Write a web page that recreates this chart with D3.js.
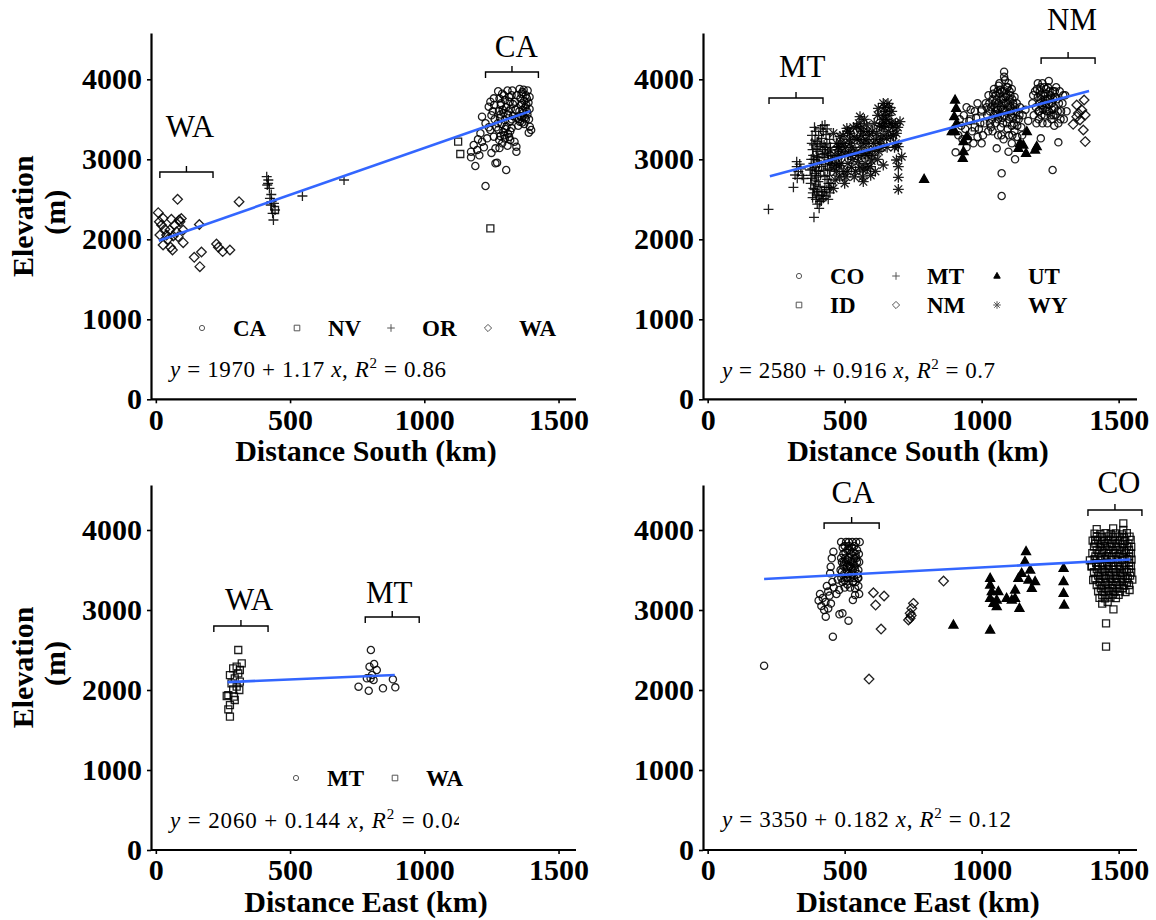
<!DOCTYPE html>
<html>
<head>
<meta charset="utf-8">
<script src="https://cdn.jsdelivr.net/npm/d3@7"></script>
<style>
  body { margin: 0; background: #fff; }
  svg { display: block; }
  text { font-family: "Liberation Serif", "Times New Roman", serif; }
</style>
</head>
<body>
<svg id="chart" width="1156" height="920"></svg>
<script>
// ---- data: [distance km, elevation m] ----
// panel 1: distance south, western states
const p1CA = [[1190,2916],[1228,2666],[1265,2950],[1271,2958],[1305,2866],[1343,3095],[1343,3158],[1336,3220],[1393,3408],[1389,3333],[1398,3366],
  [1174,3025],[1174,3095],[1184,3179],[1197,3116],[1209,3325],[1215,3220],[1234,3262],[1215,3533],[1228,3450],[1240,3658],[1246,3720],[1259,3762],[1246,3366],[1259,3283],[1265,3137],[1222,3150],[1205,3050],[1250,3080],[1240,3400],[1200,3250],
  [1275,3850],[1290,3820],[1310,3860],[1325,3800],[1280,3760],[1300,3740],[1318,3720],[1330,3690],[1285,3680],[1305,3650],[1322,3630],[1278,3600],[1295,3580],[1312,3560],[1330,3540],[1282,3520],[1300,3490],[1318,3470],[1288,3440],[1306,3410],[1325,3390],[1276,3370],[1294,3340],[1312,3320],[1283,3290],[1300,3260],[1320,3240],[1290,3200],[1310,3170],[1280,3140],
  [1355,3880],[1370,3870],[1385,3860],[1362,3820],[1378,3800],[1392,3780],[1358,3760],[1372,3730],[1388,3710],[1360,3680],[1376,3650],[1392,3630],[1354,3600],[1368,3580],[1384,3560],[1362,3530],[1378,3500],[1356,3470],[1372,3440],[1350,3420],[1340,3620],[1345,3520],[1338,3720],[1345,3800],
  [1286,3700],[1296,3800],[1316,3780],[1328,3860],[1274,3450],[1292,3620],[1314,3600],[1326,3500],[1284,3560],[1302,3380],[1320,3350],[1298,3300],[1316,3280],[1279,3240],[1366,3840],[1382,3760],[1364,3700],[1380,3680],[1366,3620],[1382,3600],[1358,3540],[1374,3520],[1390,3500],[1352,3500],[1365,3460],[1268,3400],[1262,3500],[1255,3600],[1260,3680],[1250,3550]];
const p1NV = [[1126,3220],[1134,3066],[1246,2137],[444,2366]];
const p1OR = [[413,2783],[419,2741],[415,2679],[423,2637],[418,2700],[425,2512],[431,2471],[440,2450],[428,2429],[444,2366],[435,2325],[438,2241],[430,2560],[546,2541],[701,2741]];
const p1WA = [[81,2500],[310,2470],[9,2333],[27,2262],[58,2250],[87,2242],[90,2220],[162,2185],[21,2179],[34,2125],[52,2116],[77,2095],[102,2116],[15,2054],[40,2054],[65,2041],[83,2033],[102,1958],[27,1929],[55,1900],[62,1866],[226,1941],[233,1900],[249,1846],[276,1866],[143,1775],[170,1841],[164,1658],[13,2220],[70,2180],[95,2260],[45,2000]];

// panel 2: distance south, rocky mountain states
const p2CO = [[905,3087],[915,3300],[925,3420],[935,3550],[945,3650],[955,3480],[965,3350],[975,3600],[985,3700],[995,3450],[1005,3300],[920,3500],[940,3380],[950,3250],[960,3620],[970,3200],[980,3520],[990,3380],[1000,3620],[930,3250],[945,3150],[1010,3450],[1000,3200],[985,3280],
  [1015,3700],[1025,3800],[1035,3650],[1045,3880],[1055,3750],[1065,3950],[1075,3850],[1085,3990],[1095,3900],[1105,3800],[1115,3700],[1125,3600],[1135,3500],[1145,3400],[1020,3550],[1030,3450],[1040,3350],[1050,3600],[1060,3500],[1070,3400],[1080,3700],[1090,3600],[1100,3500],[1110,3420],[1120,3350],[1130,3280],[1140,3650],[1150,3550],[1060,3300],[1080,3250],[1100,3300],[1050,3450],[1070,3650],[1090,3800],[1110,3880],[1120,3780],[1040,3750],[1030,3600],[1065,3820],[1085,3550],[1095,3380],[1075,3520],[1105,3650],[1115,3520],[1130,3420],[1055,3650],
  [1018,3650],[1028,3700],[1038,3500],[1048,3700],[1058,3850],[1068,3550],[1078,3750],[1088,3700],[1098,3950],[1108,3600],[1118,3450],[1128,3700],[1138,3550],[1148,3300],[1062,3920],[1072,3300],[1092,3450],[1102,3750],[1112,3300],[1044,3550],[1034,3400],[1024,3350],[1083,3850],[1095,3650],[1060,3620],[1078,3450],
  [1042,3820],[1052,3800],[1062,3700],[1072,3750],[1082,3600],[1092,3900],[1102,3850],[1112,3750],[1122,3650],[1067,3870],[1087,3780],[1097,3700],[1107,3550],[1047,3650],[1057,3550],[1077,3620],[1117,3600],[1127,3500],
  [1073,2825],[1073,2541],[1082,4095],[1082,4033],[1122,3000],[1098,3095],[1055,3137],[1110,3200],
  [1185,3700],[1195,3850],[1205,3950],[1215,3900],[1225,3800],[1235,3700],[1245,3600],[1255,3500],[1265,3650],[1275,3750],[1285,3850],[1295,3700],[1190,3550],[1200,3450],[1210,3600],[1220,3680],[1230,3550],[1240,3450],[1250,3750],[1260,3850],[1270,3550],[1280,3450],[1290,3600],[1300,3500],[1215,3750],[1235,3880],[1245,3980],[1205,3780],[1225,3620],[1255,3700],[1265,3420],
  [1188,3800],[1198,3650],[1208,3500],[1218,3550],[1228,3900],[1238,3600],[1248,3850],[1258,3620],[1268,3780],[1278,3600],[1288,3500],[1298,3800],[1212,3850],[1232,3750],[1252,3550],[1272,3900],[1242,3750],[1222,3450],[1262,3550],[1282,3700],
  [1202,3880],[1212,3700],[1222,3950],[1232,3820],[1242,3900],[1252,3800],[1262,3750],[1207,3600],[1227,3700],[1247,3680],[1267,3850],[1237,3650],[1217,3800],
  [1259,2866],[1280,3212],[1216,3262],[1310,3600],[1305,3800],[1170,3480],[1160,3620]];
const p2ID = [[960,3500],[1000,3600],[975,3400]];
const p2MT = [[222,2375],[388,2275],[407,2387],[313,2650],[325,2970],[325,2908],[331,2845],[327,2762],[319,2804],
  [428,3429],[422,3345],[416,3262],[435,3200],[410,3158],[428,3075],[398,3033],[441,2991],[386,2950],[416,2908],[447,2866],[392,2825],[428,2783],[404,2720],[441,2700],[386,2637],[416,2595],[398,2554],[422,2512],[410,2470],[380,2762],[453,2929],[374,2866],[400,2980],[420,3120],[395,2680],[435,2620],[405,2850],[385,3050],
  [390,3400],[405,3300],[432,3310],[445,3250],[388,3180],[402,3100],[425,3020],[438,3090],[450,3050],[378,3000],[392,2900],[408,2940],[430,2930],[445,2800],[382,2880],[398,2780],[412,2800],[436,2750],[450,2700],[376,2700],[392,2740],[410,2660],[428,2650],[446,2580],[384,2580],[402,2600],[420,2550],[440,2500],[395,2500],[415,2480],[432,2540],[340,2880],[345,2800],[336,2940],[350,2760],[412,3380],[425,3180],[400,3220],[383,3120],[455,3000],
  [381,3300],[394,3350],[418,3420],[436,3380],[448,3150],[392,3240],[414,3200],[430,3150],[380,3200],[396,3130],[418,3060],[440,3040],[388,3000],[406,3020],[446,2950],[377,2800],[396,2860],[424,2860],[438,2880],[390,2620],[406,2540],[426,2590],[444,2650],[383,2520],[400,2440]];
const p2NM = [[1347,3679],[1374,3741],[1366,3616],[1378,3554],[1347,3533],[1359,3491],[1334,3437],[1371,3366],[1378,3221],[1353,3575]];
const p2UT = [[790,2750],[903,3741],[907,3637],[900,3533],[909,3450],[903,3345],[891,3345],[934,3220],[934,3095],[931,3012],[946,3283],[1165,3345],[1140,3200],[1152,3179],[1134,3137],[1162,3075],[1201,3158],[1195,3116]];
const p2WY = [[508,3387],[483,3283],[477,3158],[501,3054],[459,2637],[465,2741],[495,2845],[471,2950],[520,3200],[556,3533],[544,3408],[568,3345],[556,3241],[538,3116],[574,3075],[550,2970],[568,2866],[568,2720],[593,2908],[586,3200],[617,3325],[623,3637],[641,3700],[641,3554],[635,3408],[653,3262],[641,2929],[611,3116],[665,3450],[689,3325],[702,3470],[696,3158],[708,3033],[696,2908],[696,2775],[696,2625],[447,3116],[459,3325],[689,2991],[580,3429],[520,3325],[450,2980],[490,3100],[530,3000],[600,3050],[620,3000],[560,3150],[650,3600],[660,3350],[470,2850],
  [462,2900],[478,3050],[488,2950],[498,3200],[505,2780],[515,3080],[525,2900],[535,3280],[548,3050],[560,3300],[572,3500],[578,3250],[590,3100],[598,2980],[605,3200],[612,2850],[625,3100],[632,3250],[638,3500],[645,3650],[648,3450],[655,3150],[662,3550],[668,3280],[675,3400],[682,3150],[470,3200],[482,2780],[512,2950],[526,3150],[540,2850],[552,3450],[565,2780],[585,3350],[595,2800],[628,3420],[640,3300],[658,3700],[672,3600],[685,3450],[500,2700],[518,3250],[575,2950],[608,3450],[620,3550],
  [465,3050],[476,3120],[486,3200],[494,3300],[503,3150],[511,3350],[522,3050],[532,3400],[545,3250],[558,3380],[563,3050],[570,3200],[582,3050],[590,3300],[602,3350],[614,3250],[626,3200],[636,3150],[644,3400],[652,3500],[664,3650],[670,3450],[678,3300],[686,3200],[694,3400],[480,2920],[510,2850],[535,2780],[555,2900],[582,2880]];

// panel 3: distance east, MT and WA
const p3MT = [[801,2500],[796,2292],[813,2325],[823,2250],[805,2187],[800,2146],[811,2125],[786,2146],[755,2042],[793,1991],[846,2021],[883,2133],[892,2033]];
const p3WA = [[307,2500],[320,2333],[301,2292],[288,2271],[313,2250],[276,2187],[307,2208],[294,2146],[313,2104],[282,2083],[301,2042],[288,2008],[311,2000],[270,1937],[264,1925],[294,1875],[276,1812],[270,1758],[276,1666],[291,1916]];

// panel 4: distance east, CA / NM / UT / CO
const p4CA = [[206,2304],[431,2917],[457,2667],[481,2946],[492,2958],[514,2867],[530,3125],[538,3187],[538,3270],
  [459,3729],[453,3646],[449,3541],[447,3458],[410,3200],[420,3150],[430,3100],[440,3230],[415,3050],[425,3000],[445,3180],[455,3350],[460,3280],[435,3300],[450,3080],[405,3120],[440,3020],
  [485,3500],[490,3600],[495,3700],[500,3800],[505,3850],[510,3750],[515,3650],[520,3550],[525,3450],[530,3350],[535,3800],[540,3700],[545,3600],[550,3500],[555,3850],[488,3400],[498,3450],[508,3550],[518,3750],[528,3850],[538,3500],[548,3400],[552,3700],[492,3350],[502,3650],[512,3450],[522,3700],[532,3600],[542,3850],[495,3550],[505,3400],[515,3850],[525,3600],[535,3400],[545,3750],[500,3280],[510,3320],[520,3280],[550,3300],[553,3200],[480,3250],[470,3200],[475,3380],
  [487,3850],[493,3780],[503,3720],[513,3620],[523,3520],[533,3720],[543,3650],[553,3600],[487,3650],[497,3600],[507,3500],[517,3550],[527,3780],[537,3550],[547,3450],[490,3480],[510,3400],[530,3500],[550,3400],[500,3370],[520,3400],[540,3350],[515,3800],[535,3650],[505,3600]];
const p4NM = [[605,3216],[644,3175],[613,3062],[633,2762],[589,2137],[861,3362],[751,3083],[745,3021],[739,2958],[739,2896],[733,2875],[743,2930]];
const p4UT = [[897,2812],[1031,2750],[1031,3396],[1031,3312],[1037,3229],[1031,3146],[1043,3083],[1055,3042],[1061,3229],[1091,3146],[1122,3250],[1122,3146],[1138,3021],[1134,3396],[1146,3458],[1162,3729],[1158,3604],[1177,3500],[1171,3375],[1183,3271],[1195,3354],[1299,3521],[1299,3354],[1299,3208],[1301,3062],[1055,3125],[1110,3125]];
const p4CO = [[1412,3955],[1433,3948],[1452,3962],[1471,3950],[1490,3958],[1512,3946],[1530,3960],
  [1405,3868],[1425,3875],[1446,3862],[1466,3878],[1486,3866],[1505,3872],[1524,3864],[1544,3876],
  [1410,3792],[1431,3785],[1450,3798],[1470,3788],[1491,3794],[1511,3782],[1531,3796],[1546,3788],
  [1404,3712],[1426,3705],[1445,3718],[1465,3708],[1485,3715],[1506,3702],[1526,3716],[1545,3708],
  [1412,3635],[1432,3626],[1451,3638],[1472,3628],[1492,3634],[1512,3624],[1532,3637],[1547,3630],
  [1402,3552],[1424,3545],[1444,3556],[1464,3548],[1484,3554],[1504,3544],[1525,3558],[1545,3550],
  [1410,3472],[1430,3466],[1450,3478],[1470,3468],[1490,3474],[1510,3464],[1530,3476],[1546,3470],
  [1415,3392],[1434,3385],[1454,3396],[1474,3388],[1494,3394],[1514,3384],[1534,3396],
  [1420,3312],[1440,3305],[1460,3316],[1480,3308],[1500,3314],[1520,3304],[1538,3310],
  [1425,3232],[1445,3226],[1465,3236],[1485,3228],[1505,3234],[1525,3224],
  [1430,3152],[1450,3146],[1470,3156],[1490,3148],
  [1420,3915],[1440,3910],[1460,3920],[1480,3912],[1500,3918],[1520,3908],[1540,3916],
  [1415,3830],[1436,3826],[1456,3834],[1476,3828],[1496,3832],[1516,3824],[1536,3830],
  [1420,3750],[1440,3745],[1460,3755],[1480,3748],[1500,3752],[1520,3744],[1538,3750],
  [1415,3670],[1436,3665],[1456,3674],[1476,3668],[1496,3672],[1516,3664],[1538,3670],
  [1418,3590],[1438,3586],[1458,3594],[1478,3588],[1498,3592],[1518,3584],[1538,3590],
  [1420,3510],[1440,3506],[1460,3514],[1480,3508],[1500,3512],[1520,3504],[1538,3510],
  [1425,3430],[1445,3426],[1465,3434],[1485,3428],[1505,3432],[1525,3424],[1542,3430],
  [1430,3350],[1450,3346],[1470,3354],[1490,3348],[1510,3352],[1530,3344],
  [1435,3270],[1455,3266],[1475,3274],[1495,3268],[1515,3272],
  [1440,3190],[1460,3186],[1480,3194],[1500,3188],
  [1454,2833],[1454,2542],[1481,3008],[1517,4083],[1517,4000],[1401,3541],[1407,3375],[1414,3875],[1440,3080],[1460,3100],[1540,3250],[1420,4010],[1480,4020],[1395,3620],[1550,3380]];

// regression fits
const fitIntercept = [1970, 2580, 2060, 3350];
const fitSlope = [1.17, 0.916, 0.144, 0.182];
const fitR2 = ["0.86", "0.7", "0.04", "0.12"];
const fitRange = [[11, 1395], [227, 1392], [267, 890], [206, 1543]];

// state brackets: [label, x0, x1, bracket y, label x, label y]
const p1Brackets = [["WA", 15, 213, 2841, 127, 3279], ["CA", 1228, 1425, 4091, 1343, 4279]];
const p2Brackets = [["MT", 224, 421, 3766, 345, 4029], ["NM", 1217, 1414, 4266, 1330, 4616]];
const p3Brackets = [["WA", 216, 418, 2800, 347, 3000], ["MT", 780, 981, 2912, 869, 3087]];
const p4Brackets = [["CA", 425, 626, 4087, 531, 4337], ["CO", 1388, 1585, 4250, 1501, 4462]];

const xTicks = [0, 500, 1000, 1500];
const yTicks = [0, 1000, 2000, 3000, 4000];

// ---- drawing ----
const svg = d3.select("#chart");

function shape(type, s) {
  const k = s * 0.72;
  switch (type) {
    case "circle": return `M${s},0A${s},${s} 0 1,1 ${-s},0A${s},${s} 0 1,1 ${s},0Z`;
    case "square": return `M${-s},${-s}H${s}V${s}H${-s}Z`;
    case "diamond": return `M0,${-s}L${s},0L0,${s}L${-s},0Z`;
    case "plus": return `M${-s},0H${s}M0,${-s}V${s}`;
    case "asterisk": return `M${-s},0H${s}M0,${-s}V${s}M${-k},${-k}L${k},${k}M${-k},${k}L${k},${-k}`;
    case "triangle": return `M0,${-s}L${s * 0.9},${s * 0.6}L${-s * 0.9},${s * 0.6}Z`;
  }
}
const markSize = { circle: 3.6, square: 3.5, diamond: 4.8, plus: 5, asterisk: 5.4, triangle: 5 };
const legendSize = { circle: 2.6, square: 2.8, diamond: 3.6, plus: 3.8, asterisk: 3.8, triangle: 3.6 };

const panels = [
  { left: 151, right: 576, top: 33, bottom: 399.3, xDom: [-18, 1565], xTitle: "Distance South (km)", titleX: 366, yTitle: true,
    series: [["circle", p1CA], ["square", p1NV], ["plus", p1OR], ["diamond", p1WA]],
    legend: [["circle", "CA", 202, 328], ["square", "NV", 297, 328], ["plus", "OR", 391, 328], ["diamond", "WA", 488, 328]],
    brackets: p1Brackets, eq: [170, 377, 276] },
  { left: 703, right: 1137, top: 33, bottom: 399.3, xDom: [-17, 1567], xTitle: "Distance South (km)", titleX: 918, yTitle: false,
    series: [["circle", p2CO], ["square", p2ID], ["plus", p2MT], ["diamond", p2NM], ["triangle", p2UT], ["asterisk", p2WY]],
    legend: [["circle", "CO", 799, 276], ["plus", "MT", 896, 276], ["triangle", "UT", 997, 276],
             ["square", "ID", 799, 305], ["diamond", "NM", 896, 305], ["asterisk", "WY", 997, 305]],
    brackets: p2Brackets, eq: [722, 378, 273] },
  { left: 151, right: 576, top: 485, bottom: 850, xDom: [-18, 1565], xTitle: "Distance East (km)", titleX: 366, yTitle: true,
    series: [["circle", p3MT], ["square", p3WA]],
    legend: [["circle", "MT", 296, 778], ["square", "WA", 395, 778]],
    brackets: p3Brackets, eq: [170, 828, 295], clipEq: 459 },
  { left: 703, right: 1137, top: 485, bottom: 850, xDom: [-17, 1567], xTitle: "Distance East (km)", titleX: 918, yTitle: false,
    series: [["circle", p4CA], ["diamond", p4NM], ["triangle", p4UT], ["square", p4CO]],
    legend: [],
    brackets: p4Brackets, eq: [722, 827, 289] }
];

panels.forEach((p, i) => {
  const x = d3.scaleLinear().domain(p.xDom).range([p.left, p.right]);
  const y = d3.scaleLinear().domain([0, (p.bottom - p.top) / 0.08]).range([p.bottom, p.top]);
  const g = svg.append("g");

  // points
  p.series.forEach(([type, pts]) => {
    g.append("g").selectAll("path").data(pts).join("path")
      .attr("transform", d => `translate(${x(d[0])},${y(d[1])})`)
      .attr("d", shape(type, markSize[type]))
      .attr("fill", type === "triangle" ? "#000" : "none")
      .attr("stroke", "#000")
      .attr("stroke-opacity", type === "triangle" ? 1 : 0.88)
      .attr("stroke-width", 1.3);
  });

  // fit line
  const a = fitIntercept[i], b = fitSlope[i];
  g.append("path")
    .datum(fitRange[i].map(v => [v, a + b * v]))
    .attr("d", d3.line().x(d => x(d[0])).y(d => y(d[1])))
    .attr("fill", "none").attr("stroke", "#3366FF").attr("stroke-width", 2.6);

  // axes
  const ax = g.append("g").attr("transform", `translate(0,${p.bottom})`)
    .call(d3.axisBottom(x).tickValues(xTicks).tickFormat(d3.format("d")).tickSize(4).tickSizeOuter(0).tickPadding(5));
  const ay = g.append("g").attr("transform", `translate(${p.left},0)`)
    .call(d3.axisLeft(y).tickValues(yTicks).tickFormat(d3.format("d")).tickSize(4).tickSizeOuter(0).tickPadding(5));
  [ax, ay].forEach(a => {
    a.select(".domain").attr("stroke", "#000").attr("stroke-width", 2.2);
    a.selectAll(".tick line").attr("stroke", "#000").attr("stroke-width", 1.6);
    a.selectAll(".tick text").attr("fill", "#000").attr("font-size", 30).attr("font-weight", "bold")
      .attr("font-family", "'Liberation Serif', serif");
  });
  ax.select(".domain").attr("d", `M${p.left},0H${p.right}`);

  // axis titles
  g.append("text").attr("x", p.titleX).attr("y", p.bottom + 62)
    .attr("text-anchor", "middle").attr("font-size", 30).attr("font-weight", "bold").text(p.xTitle);
  if (p.yTitle) {
    const cy = (p.top + p.bottom) / 2;
    g.append("text").attr("transform", `translate(33,${cy}) rotate(-90)`)
      .attr("text-anchor", "middle").attr("font-size", 30).attr("font-weight", "bold").text("Elevation");
    g.append("text").attr("transform", `translate(65,${cy - 4}) rotate(-90)`)
      .attr("text-anchor", "middle").attr("font-size", 30).attr("font-weight", "bold").text("(m)");
  }

  // legend
  p.legend.forEach(([type, label, lx, ly]) => {
    g.append("path").attr("transform", `translate(${lx},${ly})`)
      .attr("d", shape(type, legendSize[type]))
      .attr("fill", type === "triangle" ? "#000" : "none")
      .attr("stroke", type === "triangle" ? "#000" : "#555").attr("stroke-width", 1);
    g.append("text").attr("x", lx + 31).attr("y", ly + 8)
      .attr("font-size", 23).attr("font-weight", "bold").text(label);
  });

  // brackets with state labels
  p.brackets.forEach(([label, x0, x1, by, lx, ly]) => {
    const px0 = x(x0), px1 = x(x1), py = y(by), pm = (px0 + px1) / 2;
    g.append("path")
      .attr("d", `M${px0},${py + 6}V${py}H${px1}V${py + 6}M${pm},${py}V${py - 6}`)
      .attr("fill", "none").attr("stroke", "#000").attr("stroke-width", 1.4);
    g.append("text").attr("x", x(lx)).attr("y", y(ly))
      .attr("text-anchor", "middle").attr("font-size", 31).text(label);
  });

  // regression equation
  const eq = g.append("text").attr("x", p.eq[0]).attr("y", p.eq[1]).attr("font-size", 23)
    .attr("textLength", p.eq[2]).attr("lengthAdjust", "spacing");
  if (p.clipEq) {
    svg.append("clipPath").attr("id", "clip" + i).append("rect")
      .attr("x", 0).attr("y", 0).attr("width", p.clipEq).attr("height", 920);
    eq.attr("clip-path", `url(#clip${i})`);
  }
  eq.append("tspan").attr("font-style", "italic").text("y");
  eq.append("tspan").text(` = ${a} + ${b} `);
  eq.append("tspan").attr("font-style", "italic").text("x");
  eq.append("tspan").text(", ");
  eq.append("tspan").attr("font-style", "italic").text("R");
  eq.append("tspan").attr("font-size", 15).attr("dy", -9).text("2");
  eq.append("tspan").attr("dy", 9).text(` = ${fitR2[i]}`);
});
</script>
</body>
</html>
